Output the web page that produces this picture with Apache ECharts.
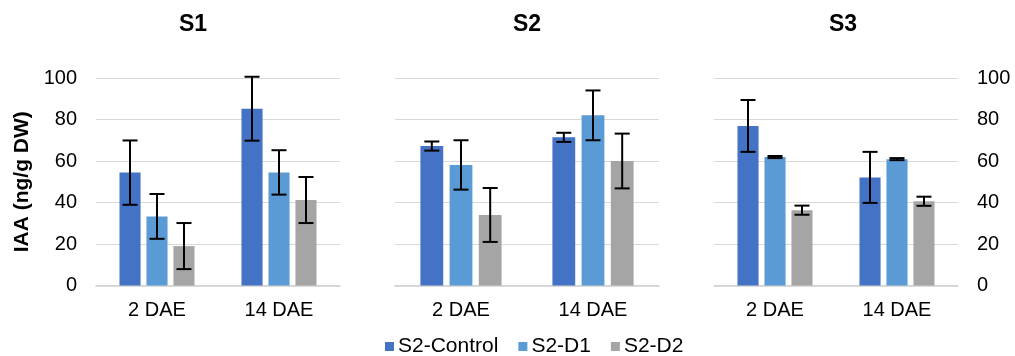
<!DOCTYPE html>
<html><head><meta charset="utf-8">
<script src="https://cdn.jsdelivr.net/npm/echarts@6/dist/echarts.min.js"></script>
<style>html,body{margin:0;padding:0;background:#fff}#c{width:1015px;height:356px}</style>
</head><body><div id="c"></div>
<script>
// ---- data ----
const categories = ['2 DAE', '14 DAE'];
const seriesNames = ['S2-Control', 'S2-D1', 'S2-D2'];
const panelTitles = ['S1', 'S2', 'S3'];
const yAxisTitle = 'IAA (ng/g DW)';

const s1Control = [54.4, 85.2];  const s1ControlErr = [15.5, 15.4];
const s1D1      = [33.3, 54.5];  const s1D1Err      = [10.8, 10.7];
const s1D2      = [19.0, 41.2];  const s1D2Err      = [11.1, 11.1];

const s2Control = [67.2, 71.4];  const s2ControlErr = [2.2, 2.2];
const s2D1      = [58.1, 82.0];  const s2D1Err      = [11.9, 12.0];
const s2D2      = [34.0, 60.0];  const s2D2Err      = [13.0, 13.2];

const s3Control = [76.9, 52.1];  const s3ControlErr = [12.5, 12.3];
const s3D1      = [61.9, 60.9];  const s3D1Err      = [0.5, 0.5];
const s3D2      = [36.3, 40.6];  const s3D2Err      = [2.2, 2.2];

const yMin = 0, yMax = 100, yStep = 20;

// ---- build ----
const panels = [
  { vals: [s1Control, s1D1, s1D2], errs: [s1ControlErr, s1D1Err, s1D2Err] },
  { vals: [s2Control, s2D1, s2D2], errs: [s2ControlErr, s2D1Err, s2D2Err] },
  { vals: [s3Control, s3D1, s3D2], errs: [s3ControlErr, s3D1Err, s3D2Err] }
];
const colors = ['#4472C4', '#5B9BD5', '#A5A5A5'];
const FONT = '"Liberation Sans", Arial, sans-serif';
const CAT_GAP = 0.385, BAR_GAP = 0.28;

const gridPos = [
  { left: 96,  width: 244 },
  { left: 395, width: 264 },
  { left: 714, width: 244 }
];
const titleX = [193, 527, 843];

function errRenderer(idx) {
  return function (params, api) {
    const cat = api.value(0), lo = api.value(1), hi = api.value(2);
    const band = api.size([1, 0])[0];
    const catGap = band * CAT_GAP;
    const n = 3;
    const bw = (band - catGap) / (n + (n - 1) * BAR_GAP);
    const base = api.coord([cat, 0]);
    const cx = base[0] - band / 2 + catGap / 2 + idx * bw * (1 + BAR_GAP) + bw / 2;
    const yHi = api.coord([cat, hi])[1], yLo = api.coord([cat, lo])[1];
    const cap = 7.5;
    const st = { stroke: '#000', lineWidth: 2 };
    return { type: 'group', children: [
      { type: 'line', shape: { x1: cx, y1: yHi, x2: cx, y2: yLo }, style: st },
      { type: 'line', shape: { x1: cx - cap, y1: yHi, x2: cx + cap, y2: yHi }, style: st },
      { type: 'line', shape: { x1: cx - cap, y1: yLo, x2: cx + cap, y2: yLo }, style: st }
    ]};
  };
}

const grid = [], xAxis = [], yAxis = [], series = [], graphic = [];
panels.forEach((p, pi) => {
  grid.push({ left: gridPos[pi].left, width: gridPos[pi].width, top: 78, height: 207.5 });
  xAxis.push({
    type: 'category', gridIndex: pi, data: categories,
    axisTick: { show: false },
    axisLine: { lineStyle: { color: '#d0d0d0', width: 1.5 } },
    axisLabel: { color: '#000', fontSize: 20, fontFamily: FONT, margin: 15 }
  });
  yAxis.push({
    type: 'value', gridIndex: pi, min: yMin, max: yMax, interval: yStep,
    position: pi === 2 ? 'right' : 'left',
    axisLine: { show: false }, axisTick: { show: false },
    splitLine: { lineStyle: { color: '#d9d9d9', width: 1.2 } },
    axisLabel: { show: pi !== 1, color: '#000', fontSize: 20, fontFamily: FONT, margin: 19 },
    name: pi === 0 ? yAxisTitle : '',
    nameLocation: 'middle', nameGap: 63, nameRotate: 90,
    nameTextStyle: { color: '#000', fontSize: 21, fontWeight: 'bold', fontFamily: FONT }
  });
  p.vals.forEach((v, si) => {
    series.push({
      type: 'bar', name: seriesNames[si], xAxisIndex: pi, yAxisIndex: pi,
      data: v, itemStyle: { color: colors[si] },
      barCategoryGap: (CAT_GAP * 100) + '%', barGap: (BAR_GAP * 100) + '%',
      animation: false
    });
  });
  p.vals.forEach((v, si) => {
    series.push({
      type: 'custom', name: seriesNames[si] + ' err', xAxisIndex: pi, yAxisIndex: pi,
      renderItem: errRenderer(si), z: 5, animation: false,
      encode: { x: 0, y: [1, 2] },
      data: v.map((m, ci) => [ci, m - p.errs[si][ci], m + p.errs[si][ci]])
    });
  });
  graphic.push({
    type: 'text', x: titleX[pi], y: 25,
    style: { text: panelTitles[pi], font: 'bold 23px ' + FONT, fill: '#000',
             textAlign: 'center', textVerticalAlign: 'middle', align: 'center', verticalAlign: 'middle' }
  });
});

const chart = echarts.init(document.getElementById('c'), null, { renderer: 'canvas' });
chart.setOption({
  animation: false,
  backgroundColor: '#fff',
  grid, xAxis, yAxis, series, graphic,
  legend: {
    data: seriesNames, left: 380, top: 331,
    icon: 'rect', itemWidth: 9, itemHeight: 9, itemGap: 20,
    textStyle: { color: '#000', fontSize: 21, fontFamily: FONT, padding: [0, 0, 0, -1] }
  }
});
</script></body></html>
